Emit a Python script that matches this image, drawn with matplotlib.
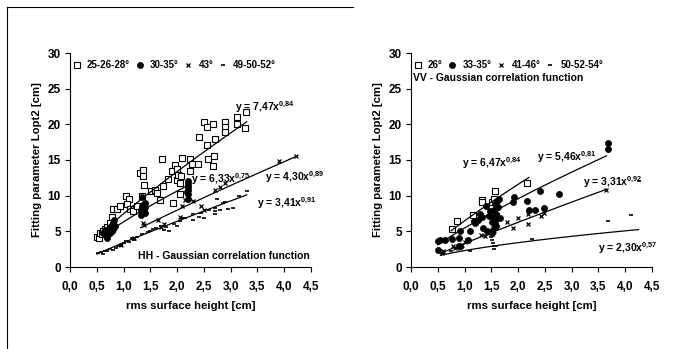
import matplotlib
matplotlib.use("Agg")
import matplotlib.pyplot as plt
import numpy as np
from matplotlib.lines import Line2D

plt.rcParams["font.family"] = ["Liberation Sans", "DejaVu Sans"]
plt.rcParams["font.weight"] = "bold"
plt.rcParams["mathtext.fontset"] = "custom"
plt.rcParams["mathtext.rm"] = "Liberation Sans:bold"
plt.rcParams["mathtext.bf"] = "Liberation Sans:bold"

# ---------------------------------------------------------------------------
# HH panel data
# ---------------------------------------------------------------------------
hh_labels = ["25-26-28°", "30-35°", "43°", "49-50-52°"]

hh_sq_x = [0.51, 0.55, 0.56, 0.60, 0.62, 0.66, 0.70, 0.74, 0.78, 0.81, 0.87, 0.93,
           1.04, 1.10, 1.06, 1.12, 1.17, 1.26, 1.34, 1.30, 1.37, 1.37, 1.38, 1.52,
           1.59, 1.62, 1.71, 1.68, 1.74, 1.83, 1.90, 1.93, 1.96, 1.99, 1.99, 2.02,
           2.05, 2.08, 2.10, 2.06, 2.24, 2.27, 2.24, 2.39, 2.41, 2.50, 2.55, 2.55,
           2.58, 2.67, 2.70, 2.69, 2.67, 2.89, 2.89, 2.89, 3.12, 3.12, 3.27, 3.28]
hh_sq_y = [4.2, 4.0, 4.8, 4.6, 5.0, 5.3, 5.6, 6.2, 7.0, 8.2, 8.2, 8.5,
           9.9, 9.6, 8.8, 8.2, 7.9, 8.6, 9.9, 13.2, 13.6, 12.8, 11.5, 10.6,
           10.8, 10.4, 15.2, 9.4, 11.3, 12.4, 13.5, 9.0, 14.3, 13.8, 12.2, 12.9,
           11.8, 12.8, 15.3, 10.2, 15.1, 14.4, 13.4, 14.5, 18.2, 20.3, 19.6, 17.1,
           15.2, 20.1, 18.0, 15.6, 14.1, 20.3, 19.6, 18.9, 21.0, 20.0, 19.5, 21.7]

hh_dot_x = [0.62, 0.65, 0.68, 0.70, 0.70, 0.72, 0.75, 0.75, 0.78, 0.78, 0.80, 0.80,
            0.82, 0.82, 0.84, 1.32, 1.33, 1.35, 1.35, 1.36, 1.38, 1.38, 1.40, 1.40,
            1.40, 2.20, 2.20, 2.20, 2.20, 2.20, 2.20, 2.18]
hh_dot_y = [4.8, 5.2, 4.5, 4.1, 5.0, 5.4, 4.7, 5.6, 5.0, 5.9, 5.3, 6.2,
            5.6, 6.6, 5.8, 7.3, 8.0, 8.5, 9.8, 7.8, 8.2, 8.8, 9.0, 8.4,
            7.6, 9.6, 10.3, 10.8, 11.2, 11.6, 12.0, 10.5]

hh_x_x = [0.95, 1.20, 1.36, 1.38, 1.65, 1.70, 1.75, 2.05, 2.10, 2.15, 2.30, 2.45,
          2.50, 2.70, 2.80, 2.90, 3.90, 4.22]
hh_x_y = [3.1, 4.0, 6.1, 5.9, 6.6, 5.6, 6.0, 7.0, 8.6, 9.4, 9.3, 8.6,
          8.0, 10.8, 11.2, 11.8, 14.8, 15.6]

hh_dash_x = [0.52, 0.58, 0.62, 0.65, 0.70, 0.75, 0.80, 0.85, 0.90, 0.95, 1.00, 1.05,
             1.10, 1.15, 1.20, 1.25, 1.35, 1.45, 1.50, 1.55, 1.60, 1.70, 1.75, 1.80,
             1.85, 1.95, 2.00, 2.05, 2.10, 2.15, 2.30, 2.30, 2.40, 2.45, 2.50, 2.60,
             2.70, 2.70, 2.70, 2.75, 2.80, 2.85, 2.90, 2.95, 3.05, 3.15, 3.30]
hh_dash_y = [1.9, 2.1, 1.8, 2.3, 2.2, 2.5, 2.4, 2.7, 3.0, 2.9, 3.3, 3.6,
             3.5, 4.0, 3.8, 4.2, 4.6, 4.9, 5.0, 5.3, 5.5, 5.8, 5.2, 5.6,
             5.0, 6.0, 5.8, 6.5, 6.8, 6.8, 6.6, 7.4, 7.0, 7.6, 6.9, 8.0,
             7.5, 7.8, 8.3, 9.5, 8.0, 9.0, 9.1, 8.2, 8.3, 9.9, 10.6]

hh_fit_a = [7.47, 6.33, 4.30, 3.41]
hh_fit_b = [0.84, 0.75, 0.89, 0.91]
hh_fit_x0 = [0.80, 0.80, 1.32, 0.50]
hh_fit_x1 = [3.30, 2.20, 4.20, 3.30]
hh_eq_x = [3.08, 2.26, 3.64, 3.49]
hh_eq_y = [22.4, 12.3, 12.6, 9.0]

# ---------------------------------------------------------------------------
# VV panel data
# ---------------------------------------------------------------------------
vv_labels = ["26°", "33-35°", "41-46°", "50-52-54°"]

vv_sq_x = [0.77, 0.85, 1.15, 1.32, 1.32, 1.51, 1.55, 1.57, 2.16]
vv_sq_y = [5.3, 6.45, 7.3, 9.4, 9.1, 9.1, 9.6, 10.6, 11.8]

vv_dot_x = [0.51, 0.54, 0.64, 0.51, 0.76, 0.89, 0.89, 0.92, 1.07, 1.10, 1.17, 1.20,
            1.26, 1.28, 1.32, 1.34, 1.40, 1.42, 1.45, 1.48, 1.51, 1.51, 1.54, 1.55,
            1.57, 1.57, 1.59, 1.60, 1.63, 1.65, 1.66, 1.52, 1.55, 1.58, 1.60, 1.90,
            1.93, 2.16, 2.21, 2.32, 2.41, 2.48, 2.77, 3.68, 3.68]
vv_dot_y = [3.6, 3.8, 3.8, 2.4, 3.9, 4.1, 2.9, 5.1, 3.8, 5.0, 6.4, 6.2,
            6.6, 7.5, 7.0, 5.4, 8.5, 5.1, 7.1, 7.9, 6.3, 5.1, 7.0, 8.0,
            8.9, 6.1, 7.5, 9.3, 8.4, 9.6, 6.8, 4.7, 5.5, 5.8, 6.8, 9.1,
            9.8, 9.3, 8.0, 8.0, 10.7, 8.3, 10.2, 17.4, 16.6]

vv_x_x = [0.57, 0.60, 0.78, 0.82, 0.88, 0.92, 0.95, 1.00, 1.05, 1.30, 1.38, 1.45,
          1.52, 1.55, 1.60, 1.80, 1.90, 2.00, 2.18, 2.18, 2.42, 2.48, 3.65]
vv_x_y = [1.9, 2.3, 2.9, 2.6, 3.0, 2.7, 3.1, 3.5, 3.8, 4.5, 4.4, 4.8,
          4.6, 5.0, 7.3, 6.3, 5.4, 6.8, 7.4, 6.0, 7.2, 7.6, 10.8]

vv_dash_x = [0.60, 0.75, 0.95, 1.10, 1.50, 1.52, 1.53, 1.55, 1.55, 1.58, 2.26, 3.67,
             4.11, 4.25]
vv_dash_y = [1.9, 2.2, 2.7, 2.3, 4.2, 3.8, 3.4, 2.5, 3.0, 2.9, 3.9, 6.5,
             7.3, 12.0]

vv_fit_a = [6.47, 5.46, 3.31, 2.30]
vv_fit_b = [0.84, 0.81, 0.92, 0.57]
vv_fit_x0 = [0.75, 0.50, 0.55, 0.55]
vv_fit_x1 = [2.20, 3.65, 3.65, 4.25]
vv_eq_x = [0.95, 2.35, 3.21, 3.50]
vv_eq_y = [14.5, 15.4, 11.9, 2.6]

x_ticks = [0.0, 0.5, 1.0, 1.5, 2.0, 2.5, 3.0, 3.5, 4.0, 4.5]
y_ticks = [0, 5, 10, 15, 20, 25, 30]

MARKERS = [
    dict(marker="s", mfc="white", mec="black", mew=0.8, ms=4.4),
    dict(marker="o", mfc="black", mec="black", mew=0.5, ms=4.4),
    dict(marker="x", color="black", mew=0.9, ms=3.2),
    dict(marker="_", color="black", mew=1.2, ms=3.5),
]


def fmt(v):
    return f"{v:.2f}".replace(".", "{,}")


def draw_panel(ax, series, labels, fit_a, fit_b, fit_x0, fit_x1, eq_x, eq_y):
    handles = []
    for (xs, ys), style, lab in zip(series, MARKERS, labels):
        h, = ax.plot(xs, ys, ls="none", label=lab, clip_on=False, **style)
        handles.append(h)
    for a, b, x0, x1 in zip(fit_a, fit_b, fit_x0, fit_x1):
        xx = np.linspace(x0, x1, 50)
        ax.plot(xx, a * xx ** b, color="black", lw=0.9)
    for a, b, tx, ty in zip(fit_a, fit_b, eq_x, eq_y):
        ax.text(tx, ty, r"y = $\mathrm{" + fmt(a) + r"}$x$^{\mathrm{" + fmt(b) + r"}}$",
                fontsize=7.5, fontweight="bold", va="center", ha="left", clip_on=False)

    ax.set_xlim(0, 4.5)
    ax.set_ylim(0, 30)
    ax.set_xticks(x_ticks)
    ax.set_xticklabels([f"{t:.1f}".replace(".", ",") for t in x_ticks])
    ax.set_yticks(y_ticks)
    ax.tick_params(direction="out", length=3.5, width=0.8, labelsize=8.5)
    ax.tick_params(axis="x", pad=6.5)
    ax.tick_params(axis="y", pad=3)
    for lab in ax.get_xticklabels() + ax.get_yticklabels():
        lab.set_fontweight("bold")
    ax.spines["top"].set_visible(False)
    ax.spines["right"].set_visible(False)
    ax.spines["left"].set_linewidth(0.8)
    ax.spines["bottom"].set_linewidth(0.8)
    ax.set_xlabel("rms surface height [cm]", fontsize=8.2, fontweight="bold", labelpad=6)
    ax.set_ylabel("Fitting parameter Lopt2 [cm]", fontsize=8.2, fontweight="bold", labelpad=4)
    ax.legend(handles=handles, loc="upper left", ncol=4, frameon=False,
              handlelength=0.6, handletextpad=0.75, columnspacing=0.7,
              borderaxespad=0.0, bbox_to_anchor=(0.0, 0.985),
              prop=dict(weight="bold", size=7))


fig = plt.figure(figsize=(6.76, 3.49), dpi=100)
ax1 = fig.add_axes([70 / 676, 82 / 349, 241 / 676, 214 / 349])
ax2 = fig.add_axes([411 / 676, 82 / 349, 241 / 676, 214 / 349])

draw_panel(ax1,
           [(hh_sq_x, hh_sq_y), (hh_dot_x, hh_dot_y), (hh_x_x, hh_x_y), (hh_dash_x, hh_dash_y)],
           hh_labels, hh_fit_a, hh_fit_b, hh_fit_x0, hh_fit_x1, hh_eq_x, hh_eq_y)
ax1.text(4.47, 1.5, "HH - Gaussian correlation function", fontsize=7.5,
         fontweight="bold", ha="right", va="center")

draw_panel(ax2,
           [(vv_sq_x, vv_sq_y), (vv_dot_x, vv_dot_y), (vv_x_x, vv_x_y), (vv_dash_x, vv_dash_y)],
           vv_labels, vv_fit_a, vv_fit_b, vv_fit_x0, vv_fit_x1, vv_eq_x, vv_eq_y)
ax2.text(0.04, 26.5, "VV - Gaussian correlation function", fontsize=7.5,
         fontweight="bold", ha="left", va="center")

# frame lines around the left panel region
fig.add_artist(Line2D([7 / 676, 7 / 676], [0, 1 - 7 / 349], color="black", lw=0.8))
fig.add_artist(Line2D([7 / 676, 353 / 676], [1 - 7 / 349, 1 - 7 / 349], color="black", lw=0.8))

fig.savefig("out.png", dpi=100)
